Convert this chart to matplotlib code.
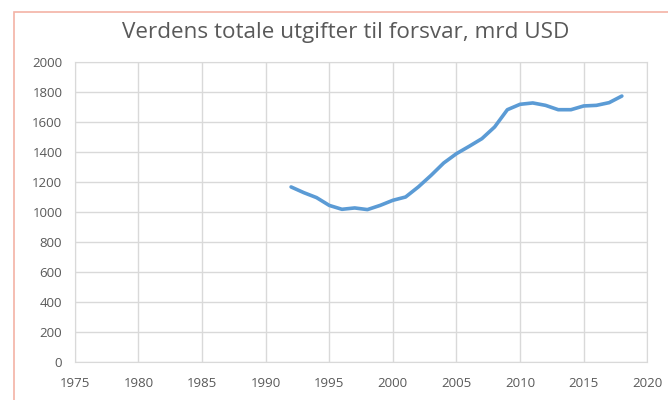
import matplotlib.pyplot as plt
from matplotlib.patches import Rectangle

plt.rcParams['font.family'] = ['Open Sans', 'DejaVu Sans']

years = list(range(1992, 2019))
spending = [1167, 1129, 1096, 1044, 1018, 1027, 1016, 1044, 1078, 1100,
            1167, 1244, 1327, 1389, 1438, 1489, 1567, 1682, 1718, 1727,
            1711, 1682, 1682, 1707, 1711, 1729, 1773]

x_ticks = list(range(1975, 2021, 5))
y_ticks = list(range(0, 2001, 200))

grid_col = '#D9D9D9'
text_col = '#595959'

fig = plt.figure(figsize=(6.68, 4.0), dpi=100)
ax = fig.add_axes([0.112, 0.095, 0.857, 0.75])

# pink chart border, cut off at right and bottom like the screenshot
fig.patches.append(Rectangle((14 / 668, -0.1), 1.2, 1 - 12 / 400 + 0.1,
                             transform=fig.transFigure, fill=False,
                             edgecolor='#F3B3A6', linewidth=1.2))

ax.plot(years, spending, color='#5B9BD5', linewidth=2.6, solid_capstyle='round')

ax.set_xlim(1975, 2020)
ax.set_ylim(0, 2000)
ax.set_xticks(x_ticks)
ax.set_yticks(y_ticks)
ax.grid(True, color=grid_col, linewidth=1)
ax.set_axisbelow(True)
for s in ax.spines.values():
    s.set_color(grid_col)
ax.tick_params(length=0, colors=text_col, labelsize=9.5)
ax.tick_params(axis='x', pad=11)
ax.tick_params(axis='y', pad=9)

fig.text(0.518, 0.918, "Verdens totale utgifter til forsvar, mrd USD",
         ha='center', va='center', fontsize=16.2, color=text_col)

fig.savefig("out.png", dpi=100)
